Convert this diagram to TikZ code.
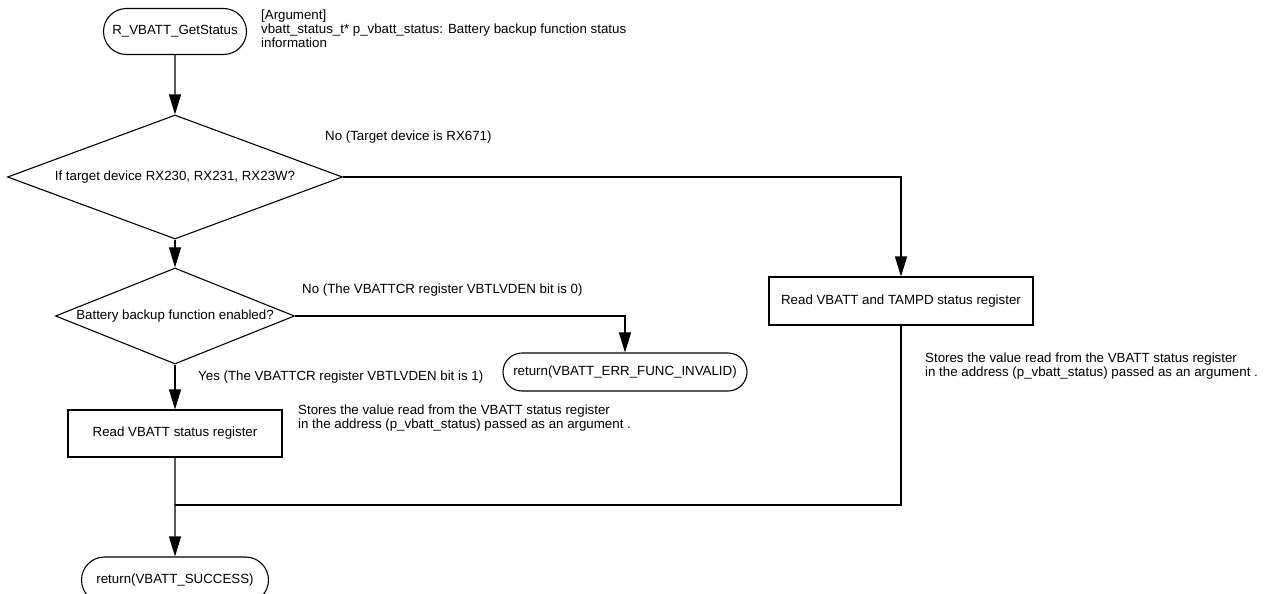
\documentclass[tikz,border=0pt]{standalone}
\usepackage{fontspec}
\setmainfont{Liberation Sans}
\usetikzlibrary{arrows.meta,shapes.geometric,shapes.misc}

\tikzset{
    base/.style={draw, line width=1.1pt, font=\fontsize{13.3}{14}\selectfont, inner sep=0pt},
    term/.style={base, rounded rectangle, minimum height=46pt},
    proc/.style={base, rectangle, minimum height=47pt},
    decision/.style={base, diamond},
    note/.style={font=\fontsize{13.3}{14}\selectfont, align=left, inner sep=0pt},
    flow/.style={line width=1.1pt, -{Triangle[length=20pt, width=12pt]}},
    wire/.style={line width=1.1pt}
}

\begin{document}
\begin{tikzpicture}[x=1pt, y=-1pt]
    \useasboundingbox (0,0) rectangle (1266,594);

    \node[term, minimum width=143pt] (start) at (175,31.5) {R\_VBATT\_GetStatus};
    \node[note, anchor=north west] (arg) at (261,10) {[Argument]\\vbatt\_status\_t* p\_vbatt\_status: Battery backup function status\\information};

    \node[decision, shape aspect=2.7, minimum width=335pt, minimum height=124pt] (dev) at (175,177) {If target device RX230, RX231, RX23W?};
    \node[decision, shape aspect=2.5, minimum width=239pt, minimum height=96pt] (ena) at (175,316) {Battery backup function enabled?};

    \node[proc, minimum width=214pt] (rd1) at (175,433.5) {Read VBATT status register};
    \node[proc, minimum width=264pt, minimum height=48pt] (rd2) at (901,301) {Read VBATT and TAMPD status register};

    \node[term, minimum width=244pt, minimum height=38pt] (inv) at (625,372) {return(VBATT\_ERR\_FUNC\_INVALID)};
    \node[term, minimum width=187pt] (ok) at (175,580) {return(VBATT\_SUCCESS)};

    \node[note, anchor=west] (no1) at (325,137) {No (Target device is RX671)};
    \node[note, anchor=west] (no2) at (302,290) {No (The VBATTCR register VBTLVDEN bit is 0)};
    \node[note, anchor=west] (yes2) at (198,377) {Yes (The VBATTCR register VBTLVDEN bit is 1)};

    \node[note, anchor=north west] (st1) at (298,405) {Stores the value read from the VBATT status register\\in the address (p\_vbatt\_status) passed as an argument .};
    \node[note, anchor=north west] (st2) at (925,353) {Stores the value read from the VBATT status register\\in the address (p\_vbatt\_status) passed as an argument .};

    \coordinate (jn) at (175,505);

    \draw[flow] (start) -- (dev);
    \draw[flow] (dev.east) -| (rd2.north);
    \draw[flow] (dev) -- (ena);
    \draw[flow] (ena.east) -| (inv.north);
    \draw[flow] (ena) -- (rd1);
    \draw[flow] (rd1) -- (ok);
    \draw[wire] (rd2.south) |- (jn);

\end{tikzpicture}
\end{document}
